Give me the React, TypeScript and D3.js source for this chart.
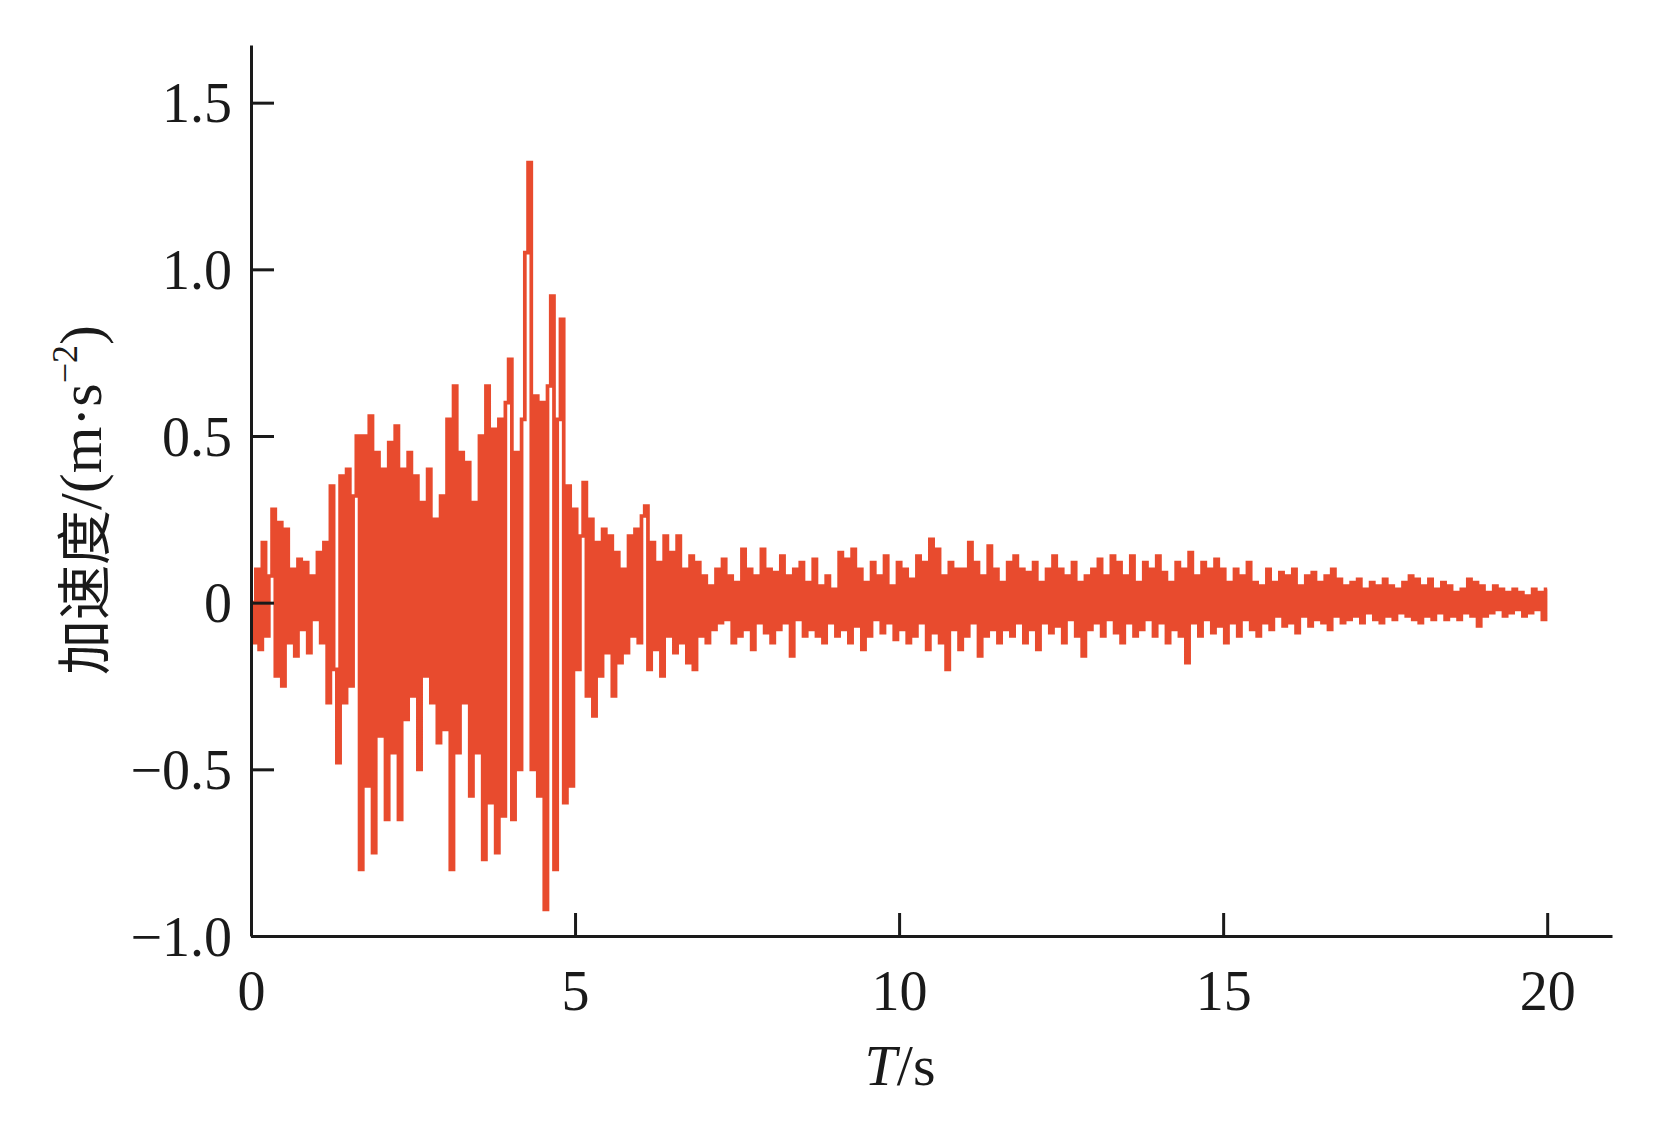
import { useRef, useEffect } from 'react';
import * as d3 from 'd3';

// sampled every 0.05 s
const DT = 0.05;

const accel0to5 = [
  0, -0.12, 0.1, -0.14, 0.18, -0.1, 0.08, 0.28, -0.22, 0.24,
  -0.25, 0.22, -0.12, 0.1, -0.16, 0.13, -0.08, 0.12, -0.15, 0.08,
  -0.05, 0.15, -0.12, 0.18, -0.3, 0.35, -0.2, -0.48, 0.38, -0.3,
  0.4, -0.25, 0.32, 0.5, -0.8, 0.5, -0.55, 0.56, -0.75, 0.45,
  -0.4, 0.4, -0.65, 0.48, -0.45, 0.53, -0.65, 0.4, -0.35, 0.45,
  -0.28, 0.38, -0.5, 0.3, -0.22, 0.4, -0.3, 0.25, -0.42, 0.32,
  -0.38, 0.55, -0.8, 0.65, -0.45, 0.45, -0.3, 0.42, -0.58, 0.3,
  -0.45, 0.5, -0.77, 0.65, -0.6, 0.52, -0.75, 0.55, -0.64, 0.6,
  0.73, -0.65, 0.45, -0.5, 0.55, 1.05, 1.32, -0.5, 0.62, -0.58,
  0.6, -0.92, 0.65, 0.92, -0.8, 0.55, 0.85, -0.6, 0.35, -0.55,
];

const accel5to10 = [
  0.28, -0.2, 0.2, 0.36, -0.28, 0.25, -0.34, 0.18, -0.22, 0.22,
  -0.15, 0.2, -0.28, 0.15, -0.18, 0.1, -0.15, 0.2, -0.1, 0.22,
  -0.12, 0.26, 0.29, -0.2, 0.18, -0.14, 0.12, -0.22, 0.2, -0.1,
  0.15, -0.15, 0.2, -0.12, 0.1, -0.18, 0.14, -0.2, 0.12, -0.1,
  0.08, -0.12, 0.05, -0.08, 0.1, -0.06, 0.13, -0.05, 0.08, -0.12,
  0.06, -0.1, 0.16, -0.08, 0.1, -0.14, 0.08, -0.06, 0.16, -0.09,
  0.1, -0.12, 0.09, -0.08, 0.14, -0.06, 0.08, -0.16, 0.1, -0.05,
  0.12, -0.1, 0.06, -0.08, 0.13, -0.1, 0.05, -0.12, 0.08, -0.06,
  0.04, -0.1, 0.15, -0.08, 0.13, -0.12, 0.16, -0.07, 0.1, -0.14,
  0.06, -0.1, 0.12, -0.05, 0.08, -0.09, 0.14, -0.06, 0.05, -0.11,
];

const accel10to15 = [
  0.12, -0.08, 0.1, -0.12, 0.07, -0.1, 0.14, -0.06, 0.12, -0.14,
  0.19, -0.09, 0.16, -0.12, 0.08, -0.2, 0.12, -0.08, 0.1, -0.14,
  0.1, -0.1, 0.18, -0.06, 0.12, -0.16, 0.08, -0.1, 0.17, -0.08,
  0.1, -0.12, 0.06, -0.08, 0.12, -0.1, 0.14, -0.06, 0.1, -0.12,
  0.09, -0.08, 0.12, -0.14, 0.06, -0.06, 0.1, -0.09, 0.14, -0.07,
  0.1, -0.12, 0.08, -0.05, 0.12, -0.1, 0.06, -0.16, 0.08, -0.08,
  0.1, -0.06, 0.13, -0.1, 0.08, -0.05, 0.14, -0.09, 0.12, -0.12,
  0.08, -0.06, 0.14, -0.1, 0.06, -0.08, 0.12, -0.05, 0.1, -0.1,
  0.14, -0.06, 0.09, -0.12, 0.06, -0.08, 0.12, -0.1, 0.1, -0.18,
  0.15, -0.06, 0.08, -0.1, 0.12, -0.05, 0.1, -0.09, 0.13, -0.07,
];

const accel15to20 = [
  0.1, -0.12, 0.06, -0.06, 0.1, -0.1, 0.08, -0.05, 0.12, -0.08,
  0.06, -0.1, 0.05, -0.06, 0.1, -0.08, 0.06, -0.04, 0.09, -0.07,
  0.08, -0.06, 0.1, -0.09, 0.05, -0.04, 0.08, -0.07, 0.09, -0.05,
  0.06, -0.06, 0.08, -0.08, 0.1, -0.04, 0.07, -0.06, 0.05, -0.05,
  0.06, -0.04, 0.07, -0.06, 0.04, -0.03, 0.06, -0.05, 0.05, -0.06,
  0.07, -0.04, 0.05, -0.05, 0.04, -0.03, 0.06, -0.04, 0.08, -0.05,
  0.07, -0.06, 0.05, -0.04, 0.07, -0.05, 0.04, -0.03, 0.06, -0.05,
  0.05, -0.04, 0.03, -0.05, 0.04, -0.03, 0.07, -0.04, 0.06, -0.07,
  0.05, -0.04, 0.03, -0.03, 0.05, -0.02, 0.04, -0.04, 0.03, -0.03,
  0.04, -0.02, 0.03, -0.04, 0.02, -0.03, 0.04, -0.02, 0.03, -0.05,
  0.04,
];

const xTicks = [0, 5, 10, 15, 20];
const yTicks = [-1.0, -0.5, 0, 0.5, 1.0, 1.5];

const LINE = '#e84b2e';
const AXIS = '#1a1a1a';
const SERIF = '"Liberation Serif", "Times New Roman", serif';

export default function App() {
  const svgRef = useRef(null);

  useEffect(() => {
    const width = 1654, height = 1124;
    const margin = { left: 251, top: 45 };
    const plotW = 1612 - margin.left;
    const plotH = 936 - margin.top;

    const svg = d3.select(svgRef.current);
    svg.selectAll('*').remove();
    svg.attr('width', width).attr('height', height);

    const values = [...accel0to5, ...accel5to10, ...accel10to15, ...accel15to20];
    const data = values.map((v, i) => ({ t: i * DT, a: v }));

    const x = d3.scaleLinear().domain([0, 21]).range([margin.left, margin.left + plotW]);
    const y = d3.scaleLinear().domain([-1.0, 1.673]).range([margin.top + plotH, margin.top]);

    // signal
    const line = d3.line().x(d => x(d.t)).y(d => y(d.a)).curve(d3.curveStep);
    svg.append('path')
      .datum(data)
      .attr('d', line)
      .attr('fill', 'none')
      .attr('stroke', LINE)
      .attr('stroke-width', 3.7);

    // x axis
    const gx = svg.append('g').attr('transform', `translate(0,${y(-1.0)})`)
      .call(d3.axisBottom(x).tickValues(xTicks).tickSizeInner(-23).tickSizeOuter(0).tickPadding(0).tickFormat(d3.format('d')));
    gx.select('.domain').attr('stroke', AXIS).attr('stroke-width', 3);
    gx.selectAll('.tick line').attr('stroke', AXIS).attr('stroke-width', 3);
    gx.selectAll('.tick text')
      .attr('y', 74).attr('dy', null)
      .style('font-family', SERIF).style('font-size', '56px').attr('fill', AXIS);

    // y axis
    const gy = svg.append('g').attr('transform', `translate(${x(0)},0)`)
      .call(d3.axisLeft(y).tickValues(yTicks).tickSizeInner(-23).tickSizeOuter(0).tickPadding(0)
        .tickFormat(d => (d === 0 ? '0' : d3.format('.1f')(d).replace('-', '−'))));
    gy.select('.domain').attr('stroke', AXIS).attr('stroke-width', 3);
    gy.selectAll('.tick line').attr('stroke', AXIS).attr('stroke-width', 3);
    gy.selectAll('.tick text')
      .attr('x', -19).attr('dy', 19)
      .style('font-family', SERIF).style('font-size', '56px').attr('fill', AXIS);

    // x label
    const xl = svg.append('text')
      .attr('x', 900).attr('y', 1085)
      .attr('text-anchor', 'middle')
      .style('font-family', SERIF).style('font-size', '58px').attr('fill', AXIS);
    xl.append('tspan').style('font-style', 'italic').text('T');
    xl.append('tspan').text('/s');

    // y label
    const yl = svg.append('text')
      .attr('transform', 'translate(101,500) rotate(-90)')
      .attr('text-anchor', 'middle')
      .style('font-family', SERIF).style('font-size', '60px').attr('fill', AXIS);
    yl.append('tspan').style('font-family', '"Noto Sans CJK SC", sans-serif').style('font-size', '55px').attr('dy', 3).text('加速度');
    yl.append('tspan').attr('dy', -3).text('/(m·s');
    yl.append('tspan').style('font-size', '36px').attr('dy', -24).text('−2');
    yl.append('tspan').attr('dy', 24).text(')');
  }, []);

  return (
    <div style={{ position: 'absolute', left: 0, top: 0, background: '#fff' }}>
      <svg ref={svgRef} style={{ display: 'block' }} />
    </div>
  );
}
